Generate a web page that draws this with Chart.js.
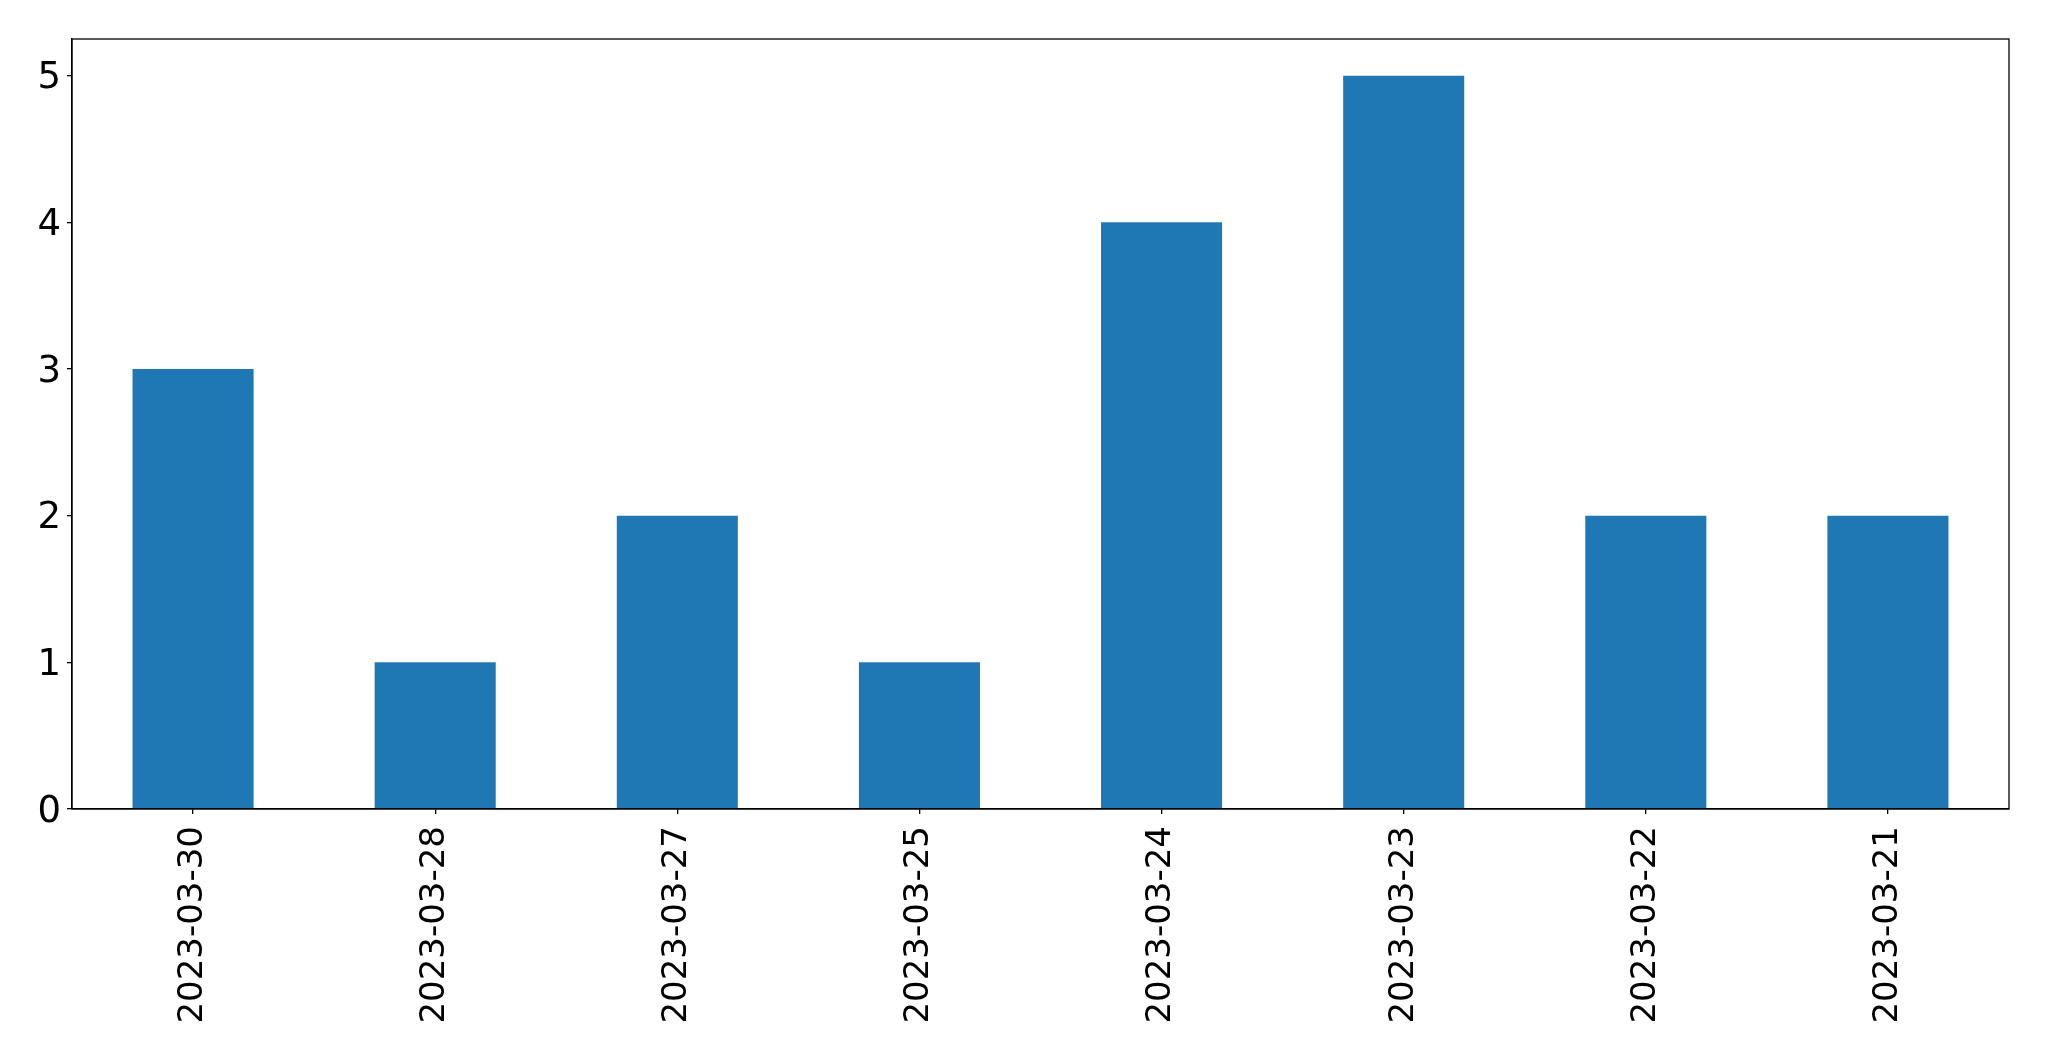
<!DOCTYPE html>
<html>
<head>
<meta charset="utf-8">
<script src="https://cdn.jsdelivr.net/npm/chart.js@4/dist/chart.umd.min.js"></script>
<style>
html,body{margin:0;padding:0;background:#fff;}
#wrap{width:2049px;height:1061px;position:relative;}
</style>
</head>
<body>
<div id="wrap"><canvas id="c" width="2049" height="1061"></canvas></div>
<script>
const categories = ["2023-03-30","2023-03-28","2023-03-27","2023-03-25","2023-03-24","2023-03-23","2023-03-22","2023-03-21"];
const values = [3, 1, 2, 1, 4, 5, 2, 2];
const yTicks = [0, 1, 2, 3, 4, 5];

const frame = {
  id: 'frame',
  afterDraw(chart) {
    const a = chart.chartArea, ctx = chart.ctx;
    ctx.save();
    ctx.strokeStyle = '#000';
    ctx.lineWidth = 1.3;
    ctx.strokeRect(a.left, a.top, a.right - a.left, a.bottom - a.top);
    ctx.restore();
  }
};

new Chart(document.getElementById('c'), {
  type: 'bar',
  data: {
    labels: categories,
    datasets: [{ data: values, backgroundColor: '#1f77b4', borderWidth: 0, barPercentage: 0.5, categoryPercentage: 1.0 }]
  },
  options: {
    responsive: false,
    animation: false,
    devicePixelRatio: 1,
    layout: { padding: { left: 0, top: 39, right: 40, bottom: 0 } },
    plugins: { legend: { display: false }, tooltip: { enabled: false } },
    scales: {
      x: {
        offset: true,
        grid: { display: true, drawOnChartArea: false, drawTicks: true, tickLength: 5, color: '#000', offset: false, lineWidth: 1.3 },
        border: { display: true, color: '#000', width: 1.3 },
        ticks: { color: '#000', font: { family: 'DejaVu Sans', size: 34 }, minRotation: 90, maxRotation: 90, padding: 12, autoSkip: false },
        afterFit(s) { s.height = 252; }
      },
      y: {
        min: 0, max: 5.25,
        grid: { display: true, drawOnChartArea: false, drawTicks: true, tickLength: 5, color: '#000', lineWidth: 1.3 },
        border: { display: true, color: '#000', width: 1.3 },
        ticks: { color: '#000', font: { family: 'DejaVu Sans', size: 37 }, stepSize: 1, includeBounds: false, padding: 6, labelOffset: 3,
          callback: (v) => yTicks.includes(v) ? String(v) : '' },
        afterFit(s) { s.width = 72; }
      }
    }
  },
  plugins: [frame]
});
</script>
</body>
</html>
